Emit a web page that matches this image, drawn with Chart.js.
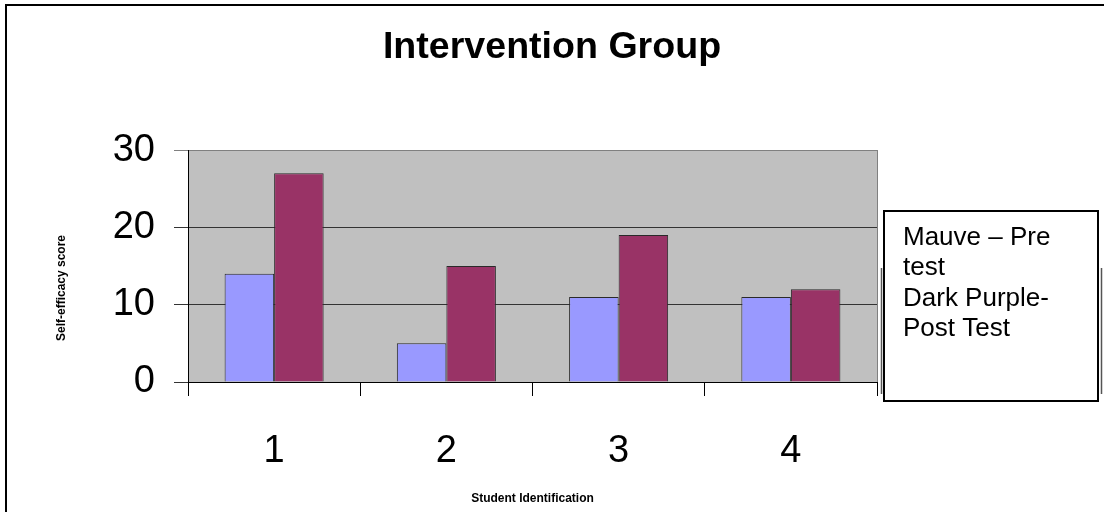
<!DOCTYPE html>
<html>
<head>
<meta charset="utf-8">
<title>Intervention Group</title>
<script src="https://cdn.jsdelivr.net/npm/chart.js@4/dist/chart.umd.min.js"></script>
<style>
  html, body { margin: 0; padding: 0; background: #ffffff; }
  #wrap { position: relative; width: 1104px; height: 512px; overflow: hidden; }
</style>
</head>
<body>
<div id="wrap"><canvas id="chart" width="1104" height="512"></canvas></div>
<script>
// Student ids along the x axis and the two self-efficacy scores per student
const categories = ['1', '2', '3', '4'];
const preTest = [14, 5, 11, 11];
const postTest = [27, 15, 19, 12];
const yTickValues = [0, 10, 20, 30];
const yAxisTitle = 'Self-efficacy score';
const noteLines = ['Mauve \u2013 Pre', 'test', 'Dark Purple-', 'Post Test'];

const FONT = "'Liberation Sans', Arial, sans-serif";

// Grey plot background, outer frame, y-axis caption and the text note box
const decorations = {
  id: 'decorations',
  beforeDraw(chart) {
    const { ctx, chartArea: a } = chart;
    ctx.save();
    ctx.fillStyle = '#ffffff';
    ctx.fillRect(0, 0, chart.width, chart.height);
    ctx.fillStyle = '#C0C0C0';
    ctx.fillRect(a.left, a.top, a.right - a.left, a.bottom - a.top);
    // right edge of the plot area
    ctx.strokeStyle = '#808080';
    ctx.lineWidth = 1;
    ctx.beginPath();
    ctx.moveTo(a.right + 0.5, a.top);
    ctx.lineTo(a.right + 0.5, a.bottom);
    ctx.stroke();
    ctx.restore();
  },
  afterDraw(chart) {
    const { ctx } = chart;
    ctx.save();
    // y-axis caption, rotated
    ctx.save();
    ctx.translate(62, 288);
    ctx.rotate(-Math.PI / 2);
    ctx.fillStyle = '#000000';
    ctx.font = 'bold 12px ' + FONT;
    ctx.textAlign = 'center';
    ctx.textBaseline = 'middle';
    ctx.fillText(yAxisTitle, 0, 0);
    ctx.restore();
    // outer frame
    ctx.strokeStyle = '#000000';
    ctx.lineWidth = 2;
    ctx.strokeRect(6, 5, 1300, 700);
    // frame partly hidden behind the note box
    ctx.strokeStyle = '#555555';
    ctx.lineWidth = 1.5;
    ctx.beginPath();
    ctx.moveTo(881.5, 268); ctx.lineTo(881.5, 394);
    ctx.moveTo(1101.5, 268); ctx.lineTo(1101.5, 394);
    ctx.stroke();
    // note box
    ctx.fillStyle = '#ffffff';
    ctx.fillRect(884, 211, 214, 190);
    ctx.strokeStyle = '#000000';
    ctx.lineWidth = 2;
    ctx.strokeRect(884, 211, 214, 190);
    ctx.fillStyle = '#000000';
    ctx.font = '26px ' + FONT;
    ctx.textBaseline = 'alphabetic';
    ctx.textAlign = 'left';
    noteLines.forEach((t, i) => ctx.fillText(t, 903, 245 + i * 30.3));
    ctx.restore();
  }
};

new Chart(document.getElementById('chart'), {
  type: 'bar',
  data: {
    labels: categories,
    datasets: [
      {
        label: 'Pre test',
        data: preTest,
        backgroundColor: '#9999FF',
        borderColor: '#2a2a2a',
        borderWidth: 1,
        borderSkipped: 'bottom'
      },
      {
        label: 'Post Test',
        data: postTest,
        backgroundColor: '#993366',
        borderColor: '#2a2a2a',
        borderWidth: 1,
        borderSkipped: 'bottom'
      }
    ]
  },
  options: {
    responsive: false,
    devicePixelRatio: 1,
    animation: false,
    categoryPercentage: 0.575,
    barPercentage: 1,
    layout: { padding: 0 },
    plugins: {
      legend: { display: false },
      tooltip: { enabled: false },
      title: {
        display: true,
        text: 'Intervention Group',
        color: '#000000',
        font: { family: FONT, size: 37.6, weight: 'bold', lineHeight: 1.2 },
        padding: { top: 25, bottom: 79.9 }
      }
    },
    scales: {
      x: {
        offset: true,
        grid: {
          offset: true,
          drawOnChartArea: false,
          drawTicks: true,
          tickLength: 14,
          color: '#000000',
          lineWidth: 1
        },
        border: { display: true, color: '#000000', width: 1 },
        ticks: {
          color: '#000000',
          font: { family: FONT, size: 38 },
          padding: 33
        },
        title: {
          display: true,
          text: 'Student Identification',
          color: '#000000',
          font: { family: FONT, size: 12, weight: 'bold', lineHeight: 1.2 },
          padding: { top: 0, bottom: 6 }
        },
        afterFit(scale) { scale.height = 130; }
      },
      y: {
        min: 0,
        max: 30,
        afterBuildTicks(scale) { scale.ticks = yTickValues.map(v => ({ value: v })); },
        grid: {
          drawTicks: true,
          tickLength: 14,
          color: ctx => (ctx.tick && ctx.tick.value === 30 ? '#808080' : '#333333'),
          lineWidth: 1
        },
        border: { display: true, color: '#000000', width: 1 },
        ticks: {
          color: '#000000',
          font: { family: FONT, size: 38 },
          padding: 19
        },
        afterFit(scale) { scale.width = 188; }
      },
      // empty right-hand strip that holds the note box
      side: {
        type: 'linear',
        position: 'right',
        display: true,
        grid: { display: false, drawOnChartArea: false },
        border: { display: false },
        ticks: { display: false },
        afterFit(scale) { scale.width = 227; }
      }
    }
  },
  plugins: [decorations]
});
</script>
</body>
</html>
